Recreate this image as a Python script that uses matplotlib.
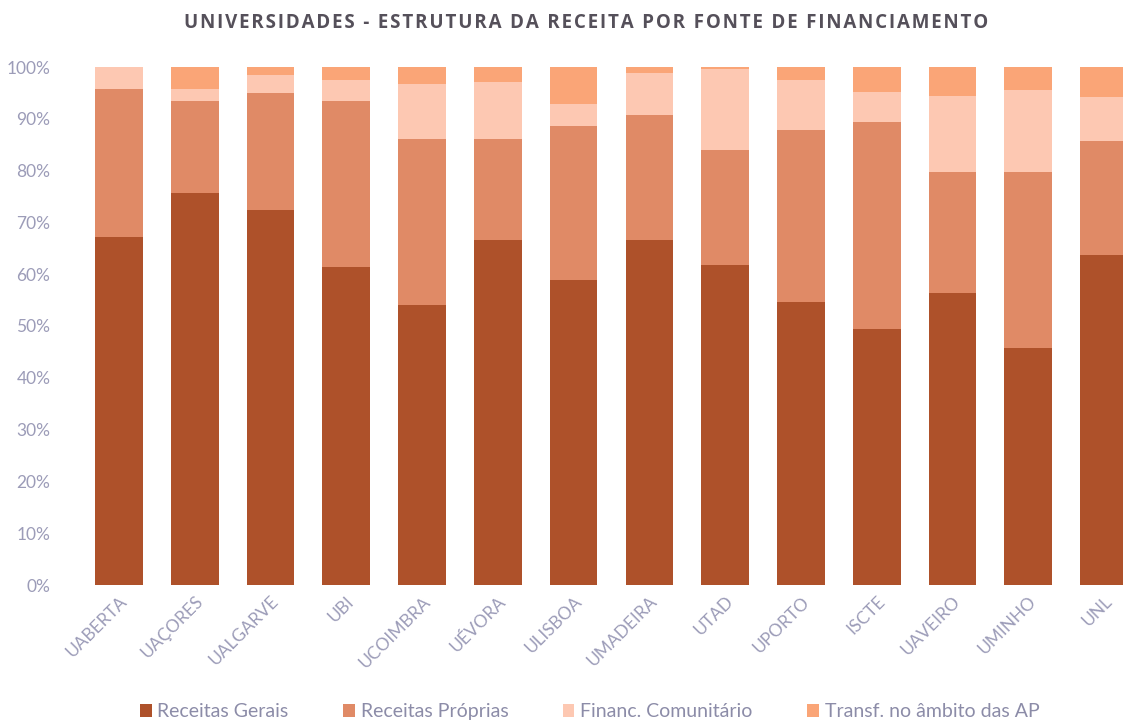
import numpy as np
import matplotlib
matplotlib.use("Agg")
import matplotlib.pyplot as plt
from matplotlib.ticker import PercentFormatter

universidades = ["UABERTA", "UAÇORES", "UALGARVE", "UBI", "UCOIMBRA", "UÉVORA", "ULISBOA",
                 "UMADEIRA", "UTAD", "UPORTO", "ISCTE", "UAVEIRO", "UMINHO", "UNL"]
series_names = ["Receitas Gerais", "Receitas Próprias", "Financ. Comunitário", "Transf. no âmbito das AP"]

receitas_gerais = [67.2, 75.7, 72.4, 61.4, 54.0, 66.6, 58.9, 66.6, 61.8, 54.6, 49.4, 56.4, 45.8, 63.7]
receitas_proprias = [28.6, 17.7, 22.6, 32.0, 32.1, 19.5, 29.7, 24.1, 22.2, 33.2, 40.0, 23.4, 34.0, 22.1]
financ_comunitario = [4.2, 2.4, 3.5, 4.1, 10.6, 11.0, 4.2, 8.2, 15.6, 9.6, 5.8, 14.6, 15.8, 8.5]
transf_ap = [0.0, 4.2, 1.5, 2.5, 3.3, 2.9, 7.2, 1.1, 0.4, 2.6, 4.8, 5.6, 4.4, 5.7]

title = "UNIVERSIDADES - ESTRUTURA DA RECEITA POR FONTE DE FINANCIAMENTO"

colors = ["#AE512A", "#E08A66", "#FDC8B2", "#FAA577"]
label_color = "#9C9CB8"

plt.rcParams["font.family"] = ["Lato", "DejaVu Sans"]

fig = plt.figure(figsize=(11.23, 7.22), dpi=100)
ax = fig.add_axes([81 / 1123, 137 / 722, 1061 / 1123, 518 / 722])

x = np.arange(len(universidades))
data = [receitas_gerais, receitas_proprias, financ_comunitario, transf_ap]
bottom = np.zeros(len(universidades))
for vals, name, c in zip(data, series_names, colors):
    v = np.array(vals) / 100
    ax.bar(x, v, width=0.63, bottom=bottom, color=c, label=name)
    bottom += v

ax.set_ylim(0, 1)
ax.set_xlim(-0.5, 13.5)
ax.set_yticks(np.arange(0, 1.01, 0.1))
ax.yaxis.set_major_formatter(PercentFormatter(1.0, decimals=0))
for s in ax.spines.values():
    s.set_visible(False)
ax.tick_params(length=0, colors=label_color, labelsize=12.5)
ax.tick_params(axis="y", pad=22)
ax.tick_params(axis="x", pad=6)
ax.set_xticks(x)
ax.set_xticklabels(universidades, rotation=45, ha="right", rotation_mode="anchor",
                   fontsize=12.5, color=label_color)

# letter-spaced title
spaced = "\u200a".join(title)
fig.text(0.522, 0.968, spaced, ha="center", va="center", fontsize=13.5,
         fontweight="bold", color="#55505A", family=["Open Sans", "DejaVu Sans"])

leg = fig.legend(loc="center", bbox_to_anchor=(0.525, 0.014), ncol=4, frameon=False,
                 fontsize=14, handlelength=0.6, handleheight=0.6, handletextpad=0.3,
                 columnspacing=2.8)
for t in leg.get_texts():
    t.set_color("#8C8CA8")

fig.savefig("out.png", dpi=100)
